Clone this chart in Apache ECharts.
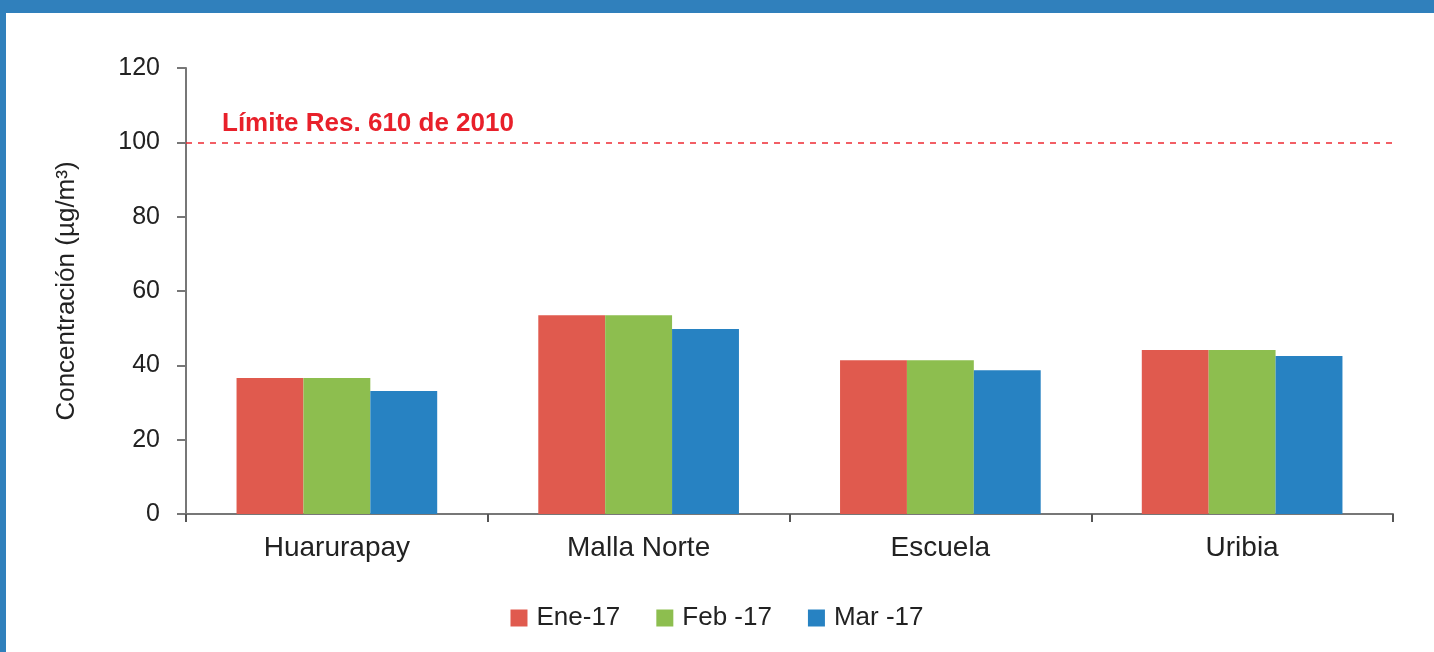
<!DOCTYPE html>
<html>
<head>
<meta charset="utf-8">
<script src="https://cdn.jsdelivr.net/npm/echarts@6/dist/echarts.min.js"></script>
<style>
  html, body { margin: 0; padding: 0; background: #fff; }
  #chart { width: 1434px; height: 652px; }
  .strip { position: absolute; background: #3080bc; }
  .strip.top { left: 0; top: 0; width: 1434px; height: 13px; }
  .strip.left { left: 0; top: 0; width: 6px; height: 652px; }
</style>
</head>
<body>
<div id="chart"></div>
<div class="strip top"></div>
<div class="strip left"></div>
<script>
// estaciones y meses
var categories = ['Huarurapay', 'Malla Norte', 'Escuela', 'Uribia'];
var seriesNames = ['Ene-17', 'Feb -17', 'Mar -17'];
var ene17 = [36.6, 53.5, 41.4, 44.1];
var feb17 = [36.6, 53.5, 41.4, 44.1];
var mar17 = [33.1, 49.8, 38.7, 42.5];
var yTicks = [0, 20, 40, 60, 80, 100, 120];
var limite = 100;
var limiteLabel = 'Límite Res. 610 de 2010';

var colors = ['#e05a4e', '#8dbe4f', '#2782c2'];
var font = '"Liberation Sans", Arial, sans-serif';

var myChart = echarts.init(document.getElementById('chart'));
var option = {
    animation: false,
    color: colors,
    textStyle: { fontFamily: font },
    grid: {
        left: 186,
        right: 41,
        top: 68,
        bottom: 138
    },
    legend: {
        bottom: 16,
        left: 'center',
        itemWidth: 17,
        itemHeight: 17,
        itemGap: 36,
        icon: 'rect',
        textStyle: { fontSize: 26, color: '#222', fontFamily: font, padding: [0, 0, 0, 4] },
        data: seriesNames
    },
    xAxis: {
        type: 'category',
        data: categories,
        axisLine: { lineStyle: { color: '#777', width: 2 } },
        axisTick: { show: true, length: 8, lineStyle: { color: '#555', width: 2 } },
        axisLabel: { fontSize: 28, color: '#222', margin: 20 }
    },
    yAxis: {
        type: 'value',
        min: yTicks[0],
        max: yTicks[yTicks.length - 1],
        interval: 20,
        name: 'Concentración (µg/m³)',
        nameLocation: 'middle',
        nameGap: 106,
        nameRotate: 90,
        nameTextStyle: { fontSize: 26, color: '#222', fontFamily: font },
        axisLine: { show: true, lineStyle: { color: '#777', width: 2 } },
        axisTick: { show: true, length: 9, lineStyle: { color: '#777', width: 2 } },
        axisLabel: { fontSize: 25, color: '#222', margin: 26 },
        splitLine: { show: false }
    },
    series: [
        {
            name: seriesNames[0],
            type: 'bar',
            barGap: '0%',
            barCategoryGap: '33.5%',
            data: ene17,
            markLine: {
                symbol: 'none',
                silent: true,
                lineStyle: { color: '#ee2a33', type: [6, 6], width: 1.5 },
                label: {
                    show: true,
                    position: 'insideStartTop',
                    formatter: limiteLabel,
                    color: '#e8202a',
                    fontWeight: 'bold',
                    fontSize: 26,
                    distance: [36, 6]
                },
                data: [{ yAxis: limite }]
            }
        },
        { name: seriesNames[1], type: 'bar', data: feb17 },
        { name: seriesNames[2], type: 'bar', data: mar17 }
    ]
};
option && myChart.setOption(option);
</script>
</body>
</html>
